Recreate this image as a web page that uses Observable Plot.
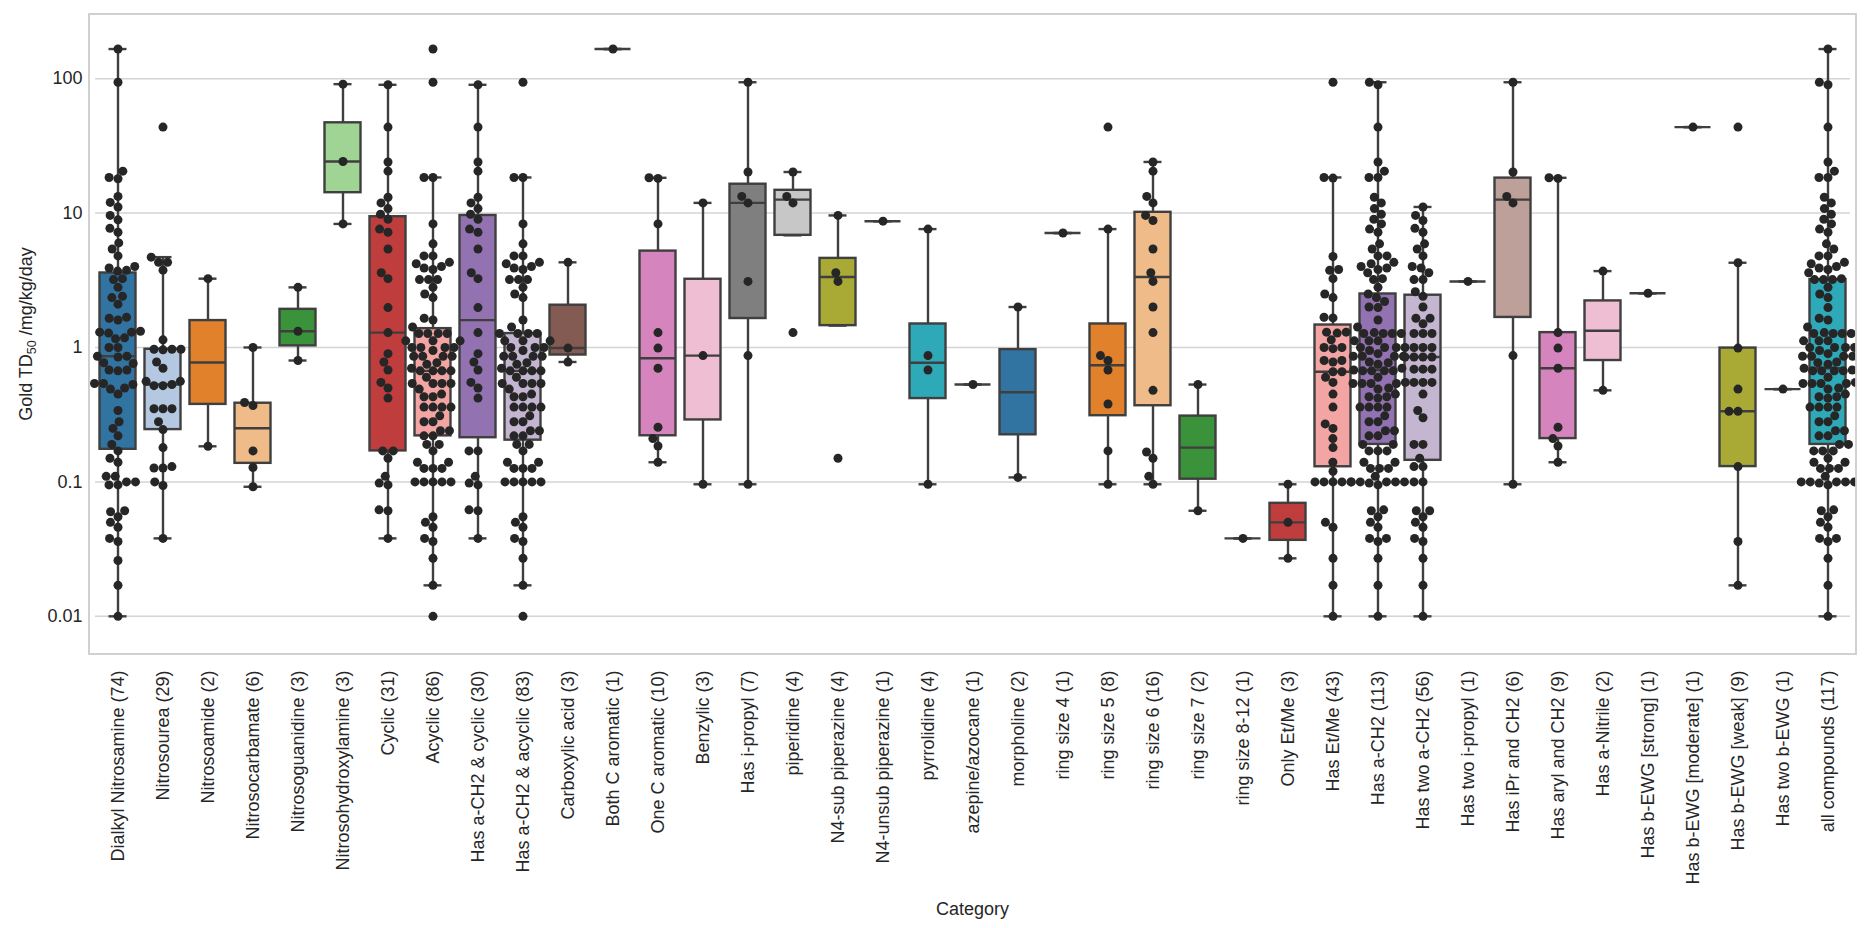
<!DOCTYPE html>
<html><head><meta charset="utf-8">
<script src="https://cdn.jsdelivr.net/npm/d3@7"></script>
<script src="https://cdn.jsdelivr.net/npm/@observablehq/plot@0.6"></script>
<style>body{margin:0;background:#fff} svg{display:block}</style>
</head><body><div id="chart"></div>
<script>
const categories = ["Dialkyl Nitrosamine (74)", "Nitrosourea (29)", "Nitrosoamide (2)", "Nitrosocarbamate (6)", "Nitrosoguanidine (3)", "Nitrosohydroxylamine (3)", "Cyclic (31)", "Acyclic (86)", "Has a-CH2 & cyclic (30)", "Has a-CH2 & acyclic (83)", "Carboxylic acid (3)", "Both C aromatic (1)", "One C aromatic (10)", "Benzylic (3)", "Has i-propyl (7)", "piperidine (4)", "N4-sub piperazine (4)", "N4-unsub piperazine (1)", "pyrrolidine (4)", "azepine/azocane (1)", "morpholine (2)", "ring size 4 (1)", "ring size 5 (8)", "ring size 6 (16)", "ring size 7 (2)", "ring size 8-12 (1)", "Only Et/Me (3)", "Has Et/Me (43)", "Has a-CH2 (113)", "Has two a-CH2 (56)", "Has two i-propyl (1)", "Has iPr and CH2 (6)", "Has aryl and CH2 (9)", "Has a-Nitrile (2)", "Has b-EWG [strong] (1)", "Has b-EWG [moderate] (1)", "Has b-EWG [weak] (9)", "Has two b-EWG (1)", "all compounds (117)"];

// Gold TD50 values (mg/kg/day) per category
const dialkylNitrosamine = [166, 94, 20.5, 18.4, 18, 13.3, 12, 11.1, 9.6, 8.9, 7.7, 7.2, 6.0, 5.4, 4.8, 4.0, 3.9, 3.75, 3.7, 3.25, 3.2, 2.8, 2.4, 2.35, 2.1, 1.68, 1.6, 1.65, 1.3, 1.3, 1.32, 1.28, 1.18, 1.16, 1.0, 1.0, 0.86, 0.86, 0.85, 0.77, 0.76, 0.68, 0.68, 0.67, 0.54, 0.54, 0.53, 0.5, 0.49, 0.45, 0.34, 0.28, 0.25, 0.22, 0.19, 0.17, 0.15, 0.14, 0.11, 0.11, 0.1, 0.1, 0.095, 0.095, 0.061, 0.06, 0.055, 0.05, 0.046, 0.038, 0.036, 0.026, 0.017, 0.01];
const nitrosourea = [43.6, 4.7, 4.3, 4.3, 3.76, 1.14, 0.97, 0.97, 0.97, 0.96, 0.78, 0.7, 0.56, 0.56, 0.53, 0.52, 0.52, 0.35, 0.35, 0.35, 0.28, 0.245, 0.18, 0.13, 0.127, 0.127, 0.1, 0.094, 0.038];
const nitrosoamide = [3.25, 0.184];
const nitrosocarbamate = [1.0, 0.39, 0.37, 0.17, 0.128, 0.092];
const nitrosoguanidine = [2.8, 1.32, 0.8];
const nitrosohydroxylamine = [91, 24.2, 8.3];
const cyclic = [90, 43.6, 24, 20.5, 13.1, 11.9, 10.8, 9.8, 9.0, 7.6, 7.2, 5.4, 3.6, 3.25, 1.98, 1.29, 0.9, 0.78, 0.68, 0.55, 0.5, 0.42, 0.17, 0.17, 0.15, 0.11, 0.098, 0.095, 0.062, 0.061, 0.038];
const acyclic = [166, 94, 18.4, 18.4, 8.3, 5.9, 4.8, 4.8, 4.3, 4.2, 4.0, 3.9, 3.8, 3.2, 3.2, 3.2, 2.8, 2.5, 2.35, 1.65, 1.6, 1.42, 1.27, 1.27, 1.27, 1.27, 1.12, 1.12, 1.12, 1.0, 1.0, 1.0, 1.0, 0.95, 0.86, 0.86, 0.86, 0.86, 0.77, 0.75, 0.7, 0.67, 0.67, 0.67, 0.67, 0.6, 0.54, 0.54, 0.54, 0.54, 0.49, 0.45, 0.43, 0.43, 0.36, 0.36, 0.36, 0.36, 0.31, 0.28, 0.28, 0.24, 0.24, 0.22, 0.22, 0.19, 0.19, 0.17, 0.14, 0.14, 0.126, 0.126, 0.126, 0.1, 0.1, 0.1, 0.1, 0.1, 0.055, 0.05, 0.046, 0.038, 0.036, 0.027, 0.017, 0.01];
const aCH2Cyclic = [90, 43.6, 24, 20.5, 13.1, 11.9, 10.8, 9.8, 9.0, 7.6, 7.2, 5.4, 3.6, 3.25, 1.98, 1.29, 0.9, 0.78, 0.68, 0.55, 0.5, 0.42, 0.17, 0.17, 0.11, 0.098, 0.095, 0.062, 0.061, 0.038];
const aCH2Acyclic = [94, 18.4, 18.4, 8.3, 5.9, 4.8, 4.8, 4.3, 4.2, 4.0, 3.9, 3.8, 3.2, 3.2, 3.2, 2.8, 2.5, 2.35, 1.6, 1.42, 1.27, 1.27, 1.27, 1.27, 1.12, 1.12, 1.12, 1.0, 1.0, 1.0, 0.95, 0.86, 0.86, 0.86, 0.86, 0.77, 0.75, 0.7, 0.67, 0.67, 0.67, 0.67, 0.6, 0.54, 0.54, 0.54, 0.54, 0.49, 0.45, 0.43, 0.43, 0.36, 0.36, 0.36, 0.36, 0.31, 0.28, 0.28, 0.24, 0.24, 0.22, 0.22, 0.19, 0.19, 0.17, 0.14, 0.14, 0.126, 0.126, 0.126, 0.1, 0.1, 0.1, 0.1, 0.1, 0.055, 0.05, 0.046, 0.038, 0.036, 0.027, 0.017, 0.01];
const carboxylicAcid = [4.3, 0.99, 0.78];
const bothCAromatic = [166];
const oneCAromatic = [18.3, 18.1, 8.3, 1.29, 0.99, 0.70, 0.255, 0.21, 0.185, 0.14];
const benzylic = [11.9, 0.87, 0.096];
const hasIPropyl = [94, 20.2, 13.3, 11.9, 3.1, 0.87, 0.096];
const piperidine = [20.2, 13.3, 11.9, 1.29];
const n4SubPiperazine = [9.6, 3.6, 3.1, 0.15];
const n4UnsubPiperazine = [8.7];
const pyrrolidine = [7.6, 0.87, 0.68, 0.096];
const azepineAzocane = [0.53];
const morpholine = [2.0, 0.108];
const ringSize4 = [7.1];
const ringSize5 = [43.6, 7.6, 0.87, 0.8, 0.68, 0.38, 0.17, 0.096];
const ringSize6 = [24, 20.5, 13.3, 11.9, 9.6, 8.8, 5.4, 3.6, 3.1, 2.0, 1.29, 0.48, 0.167, 0.15, 0.11, 0.096];
const ringSize7 = [0.53, 0.061];
const ringSize8to12 = [0.038];
const onlyEtMe = [0.096, 0.05, 0.027];
const hasEtMe = [94, 18.4, 18.2, 4.75, 3.8, 3.75, 3.25, 2.5, 2.35, 1.68, 1.66, 1.3, 1.3, 1.28, 1.14, 1.0, 1.0, 0.98, 0.8, 0.8, 0.78, 0.66, 0.66, 0.6, 0.55, 0.45, 0.36, 0.27, 0.25, 0.21, 0.18, 0.14, 0.12, 0.1, 0.1, 0.1, 0.1, 0.1, 0.05, 0.046, 0.027, 0.017, 0.01];
const hasACH2 = [94, 90, 43.6, 24, 20.5, 18.4, 18.4, 13.1, 11.9, 10.8, 9.8, 9.0, 8.3, 7.6, 7.2, 5.9, 5.4, 4.8, 4.8, 4.3, 4.2, 4.0, 3.9, 3.8, 3.6, 3.25, 3.2, 2.8, 2.5, 2.35, 2.2, 2.0, 1.98, 1.6, 1.42, 1.29, 1.27, 1.27, 1.27, 1.27, 1.12, 1.12, 1.12, 1.0, 1.0, 1.0, 0.95, 0.9, 0.86, 0.86, 0.86, 0.86, 0.78, 0.77, 0.75, 0.7, 0.68, 0.67, 0.67, 0.67, 0.67, 0.6, 0.55, 0.54, 0.54, 0.54, 0.54, 0.5, 0.49, 0.45, 0.43, 0.43, 0.42, 0.36, 0.36, 0.36, 0.36, 0.31, 0.28, 0.28, 0.24, 0.24, 0.22, 0.22, 0.19, 0.19, 0.17, 0.17, 0.17, 0.14, 0.14, 0.126, 0.126, 0.126, 0.11, 0.1, 0.1, 0.1, 0.1, 0.1, 0.098, 0.095, 0.062, 0.061, 0.055, 0.05, 0.046, 0.038, 0.038, 0.036, 0.027, 0.017, 0.01];
const hasTwoACH2 = [11.1, 9.6, 8.8, 7.7, 7.2, 5.9, 5.4, 4.8, 4.0, 3.9, 3.6, 3.2, 3.2, 2.6, 2.4, 2.0, 1.65, 1.5, 1.65, 1.27, 1.27, 1.27, 1.0, 1.0, 1.0, 1.0, 0.85, 0.85, 0.85, 0.85, 0.69, 0.69, 0.69, 0.55, 0.55, 0.55, 0.45, 0.34, 0.3, 0.19, 0.19, 0.15, 0.13, 0.13, 0.1, 0.1, 0.061, 0.061, 0.055, 0.05, 0.046, 0.038, 0.036, 0.027, 0.017, 0.01];
const hasTwoIPropyl = [3.1];
const hasIPrAndCH2 = [94, 20.2, 13.3, 11.9, 0.87, 0.096];
const hasArylAndCH2 = [18.3, 18.1, 1.29, 0.99, 0.70, 0.255, 0.21, 0.185, 0.14];
const hasANitrile = [3.7, 0.48];
const bEwgStrong = [2.53];
const bEwgModerate = [43.6];
const bEwgWeak = [43.6, 4.27, 0.99, 0.49, 0.335, 0.335, 0.13, 0.036, 0.017];
const hasTwoBEwg = [0.49];

const yTicks = [0.01, 0.1, 1, 10, 100];

// ---- styles (not data) ----
const palette = ["#3274a1", "#b5c8e1", "#e1812c", "#eebb89", "#3a923a", "#9fd495", "#c03d3e", "#f2a5a3", "#9372b2", "#c4b5d0", "#845b53", "#bea09a", "#d684bd", "#efbed3", "#7f7f7f", "#c7c7c7", "#a9aa35", "#d1d197", "#2ea9b8", "#a7d4dc"];
const boxLine = "#3f3f3f";
const W = 1868, H = 928, mL = 89, mR = 12, mT = 14, mB = 274;

const series = [dialkylNitrosamine, nitrosourea, nitrosoamide, nitrosocarbamate, nitrosoguanidine, nitrosohydroxylamine, cyclic, acyclic, aCH2Cyclic, aCH2Acyclic, carboxylicAcid, bothCAromatic, oneCAromatic, benzylic, hasIPropyl, piperidine, n4SubPiperazine, n4UnsubPiperazine, pyrrolidine, azepineAzocane, morpholine, ringSize4, ringSize5, ringSize6, ringSize7, ringSize8to12, onlyEtMe, hasEtMe, hasACH2, hasTwoACH2, hasTwoIPropyl, hasIPrAndCH2, hasArylAndCH2, hasANitrile, bEwgStrong, bEwgModerate, bEwgWeak, hasTwoBEwg, cyclic.concat(acyclic)];

const points = categories.flatMap((c, i) => series[i].map(v => ({cat: c, v})))
  .sort((a, b) => a.v - b.v);

// box statistics computed in log space (as on a log axis)
function boxStats(vals) {
  const l = vals.map(Math.log10).sort(d3.ascending);
  const q1 = d3.quantileSorted(l, 0.25), med = d3.quantileSorted(l, 0.5), q3 = d3.quantileSorted(l, 0.75);
  const iqr = q3 - q1;
  let lo = d3.min(l.filter(x => x >= q1 - 1.5 * iqr - 1e-9)); if (lo > q1) lo = q1;
  let hi = d3.max(l.filter(x => x <= q3 + 1.5 * iqr + 1e-9)); if (hi < q3) hi = q3;
  return {q1, med, q3, lo, hi};
}
const stat = k => vals => 10 ** boxStats(vals)[k];
const c = v => () => v;

const plot = Plot.plot({
  width: W, height: H,
  marginLeft: mL, marginRight: mR, marginTop: mT, marginBottom: mB,
  style: {fontFamily: "'Liberation Sans', Arial, sans-serif", fontSize: "18px", color: "#262626", background: "white"},
  facet: {data: points, x: "cat"},
  fx: {domain: categories, padding: 0, axis: "bottom", tickRotate: -90, tickSize: 0, tickPadding: 16, label: null},
  x: {domain: [-0.5, 0.5], axis: null},
  y: {type: "log", domain: [0.0052, 300], ticks: yTicks, tickFormat: d => String(d), tickSize: 0, tickPadding: 13, label: null},
  color: {domain: categories, range: palette},
  marks: [
    Plot.ruleY(yTicks, {stroke: "#d4d4d4", strokeWidth: 1.5}),
    Plot.ruleX(points, Plot.groupZ({x: c(0), y1: stat("lo"), y2: stat("hi")}, {y: "v", stroke: boxLine, strokeWidth: 2.4})),
    Plot.rect(points, Plot.groupZ({x1: c(-0.4), x2: c(0.4), y1: stat("q1"), y2: stat("q3")}, {y: "v", fill: "cat", stroke: boxLine, strokeWidth: 2.4})),
    Plot.ruleY(points, Plot.groupZ({x1: c(-0.4), x2: c(0.4), y: stat("med")}, {y: "v", stroke: boxLine, strokeWidth: 2.4})),
    Plot.ruleY(points, Plot.groupZ({x1: c(-0.2), x2: c(0.2), y: stat("lo")}, {y: "v", stroke: boxLine, strokeWidth: 2.4})),
    Plot.ruleY(points, Plot.groupZ({x1: c(-0.2), x2: c(0.2), y: stat("hi")}, {y: "v", stroke: boxLine, strokeWidth: 2.4})),
    Plot.dot(points, Plot.dodgeX({anchor: "middle", padding: 0}, {y: "v", r: 4.5, fill: "#262626"}))
  ]
});
document.getElementById("chart").appendChild(plot);

const svg = d3.select(plot);
// mask anything drawn past the right edge of the axes (matplotlib clips to the axes)
svg.append("rect")
  .attr("x", W - mR).attr("y", 0).attr("width", mR).attr("height", H - mB + 4)
  .attr("fill", "white");
svg.append("rect")
  .attr("x", mL).attr("y", mT).attr("width", W - mL - mR).attr("height", H - mT - mB)
  .attr("fill", "none").attr("stroke", "#cccccc").attr("stroke-width", 1.8);
const yl = svg.append("text")
  .attr("transform", `translate(32,${(mT + H - mB) / 2}) rotate(-90)`)
  .attr("text-anchor", "middle").attr("fill", "#262626").attr("font-size", 18);
yl.append("tspan").text("Gold TD");
yl.append("tspan").attr("font-size", 12.5).attr("dy", 4).text("50");
yl.append("tspan").attr("dy", -4).text(" /mg/kg/day");
svg.append("text")
  .attr("x", (mL + W - mR) / 2).attr("y", 915)
  .attr("text-anchor", "middle").attr("fill", "#262626").attr("font-size", 18)
  .text("Category");
</script>
</body></html>
